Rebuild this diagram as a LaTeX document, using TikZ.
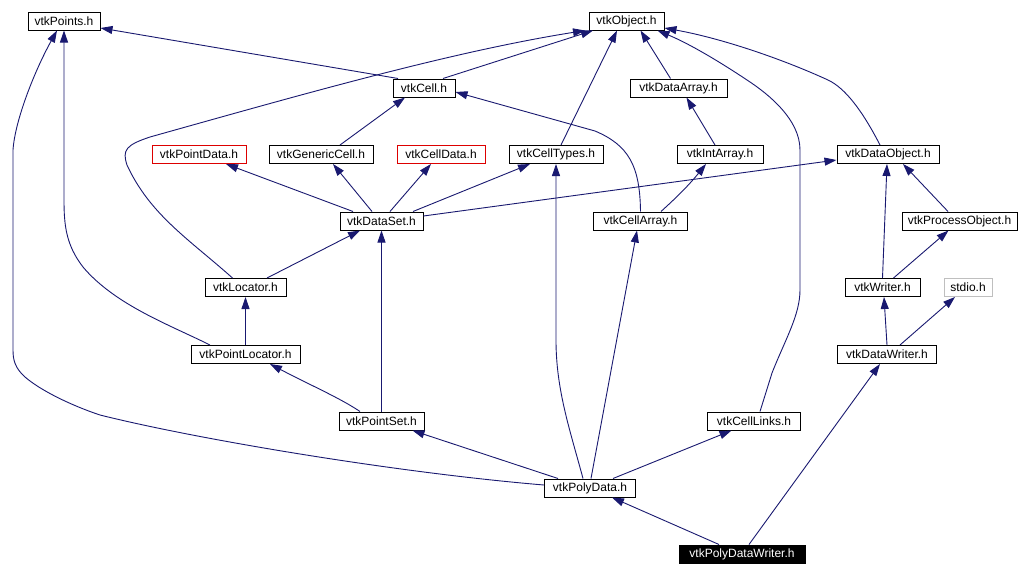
\documentclass[tikz,border=0pt]{standalone}
\usepackage{fontspec}
\setmainfont{Liberation Sans}
\usetikzlibrary{arrows.meta}
\definecolor{edgeblue}{HTML}{191970}
\definecolor{redborder}{HTML}{DD0000}
\definecolor{grayborder}{HTML}{BFBFBF}
\begin{document}
\begin{tikzpicture}[x=1pt,y=-1pt,
  box/.style={draw=black,line width=1pt,fill=white,minimum height=18pt,inner sep=0pt,
    font=\fontsize{12}{13}\selectfont},
  redbox/.style={box,draw=redborder},
  graybox/.style={box,draw=grayborder},
  blackbox/.style={box,fill=black,text=white},
  edge/.style={draw=edgeblue,line width=0.9pt,-{Triangle[length=12pt,width=8pt]}}]
\useasboundingbox[fill=white] (0,0) rectangle (1018,576);
% nodes
\node[box,minimum width=72pt] (points) at (64,21) {vtkPoints.h};
\node[box,minimum width=75pt] (object) at (626.5,21) {vtkObject.h};
\node[box,minimum width=62pt] (cell) at (424,88) {vtkCell.h};
\node[box,minimum width=97pt] (dataarray) at (678.5,88) {vtkDataArray.h};
\node[redbox,minimum width=94pt] (pointdata) at (199,154.5) {vtkPointData.h};
\node[box,minimum width=104pt] (genericcell) at (321,154.5) {vtkGenericCell.h};
\node[redbox,minimum width=88pt] (celldata) at (441,154.5) {vtkCellData.h};
\node[box,minimum width=94pt] (celltypes) at (556,154.5) {vtkCellTypes.h};
\node[box,minimum width=86pt] (intarray) at (720,154.5) {vtkIntArray.h};
\node[box,minimum width=102pt] (dataobject) at (888,154.5) {vtkDataObject.h};
\node[box,minimum width=83pt] (dataset) at (381.5,221) {vtkDataSet.h};
\node[box,minimum width=94pt] (cellarray) at (640.5,221) {vtkCellArray.h};
\node[box,minimum width=115pt] (processobject) at (959.5,221) {vtkProcessObject.h};
\node[box,minimum width=81pt] (locator) at (245.5,287.5) {vtkLocator.h};
\node[box,minimum width=75pt] (writer) at (882.5,287.5) {vtkWriter.h};
\node[graybox,minimum width=48pt] (stdio) at (968,287.5) {stdio.h};
\node[box,minimum width=109pt] (pointlocator) at (245.5,354.5) {vtkPointLocator.h};
\node[box,minimum width=99pt] (datawriter) at (887,354.5) {vtkDataWriter.h};
\node[box,minimum width=85pt] (pointset) at (381.5,421) {vtkPointSet.h};
\node[box,minimum width=93pt] (celllinks) at (754,421) {vtkCellLinks.h};
\node[box,minimum width=91pt] (polydata) at (590,488) {vtkPolyData.h};
\node[blackbox,minimum width=126pt] (polydatawriter) at (742,554) {vtkPolyDataWriter.h};
% edges
\draw[edge] ([xshift=-26pt]cell.north) -- ([yshift=-7pt]points.east);
\draw[edge] ([xshift=19pt]cell.north) -- ([xshift=-33.5pt]object.south);
\draw[edge] ([xshift=-13pt]locator.north) .. controls (190,240) and (150,215) .. (127,165)
  .. controls (122,150) and (126,145) .. (150,137)
  .. controls (300,95) and (450,52) .. ([xshift=-41.5pt]object.south);
\draw[edge] ([xshift=19pt]genericcell.north) -- ([xshift=-19pt]cell.south);
\draw[edge] ([xshift=-8pt]dataarray.north) -- ([xshift=14pt]object.south);
\draw[edge] ([xshift=5pt]celltypes.north) -- ([xshift=-9.5pt]object.south);
\draw[edge] ([xshift=6pt]celllinks.north) -- (772,373) .. controls (785,340) and (800,315) .. (800,290)
  -- (800,150) .. controls (800,120) and (770,95) .. (747,80)
  .. controls (720,62) and (690,44) .. ([xshift=31pt]object.south);
\draw[edge] ([xshift=-8pt]dataobject.north) .. controls (862,110) and (845,88) .. (828,80)
  .. controls (780,58) and (720,38) .. ([yshift=-7pt]object.east);
\draw[edge] ([xshift=-5pt]intarray.north) -- ([xshift=8pt]dataarray.south);
\draw[edge] ([xshift=-28.5pt]dataset.north) -- ([xshift=27pt]pointdata.south);
\draw[edge] ([xshift=-9.5pt]dataset.north) -- ([xshift=12pt]genericcell.south);
\draw[edge] ([xshift=8.5pt]dataset.north) -- ([xshift=-10pt]celldata.south);
\draw[edge] ([xshift=31.5pt]dataset.north) -- ([xshift=-26pt]celltypes.south);
\draw[edge] ([yshift=5pt]dataset.east) -- ([yshift=-5.5pt]dataobject.west);
\draw[edge] (cellarray.north) .. controls (640,165) and (628,145) .. (595,131)
  -- ([yshift=-4pt]cell.east);
\draw[edge] ([xshift=20.5pt]cellarray.north) .. controls (668,205) and (685,190) .. ([xshift=-14pt]intarray.south);
\draw[edge] ([xshift=-11.5pt]processobject.north) -- ([xshift=15pt]dataobject.south);
\draw[edge] (writer.north) -- ([xshift=-1pt]dataobject.south);
\draw[edge] ([xshift=11pt]writer.north) -- ([xshift=-11pt]processobject.south);
\draw[edge] (datawriter.north) -- ([xshift=1.5pt]writer.south);
\draw[edge] ([xshift=13pt]datawriter.north) -- ([xshift=-13pt]stdio.south);
\draw[edge] ([xshift=21.5pt]locator.north) -- ([xshift=-21.5pt]dataset.south);
\draw[edge] (pointlocator.north) -- (locator.south);
\draw[edge] ([xshift=-35.5pt]pointlocator.north) .. controls (170,325) and (115,305) .. (83,267)
  .. controls (66,245) and (64,225) .. (64,200) -- (points.south);
\draw[edge] ([yshift=3pt]polydata.west) .. controls (400,473) and (200,440) .. (100,415)
  .. controls (70,405) and (40,390) .. (25,377)
  .. controls (15,368) and (13,360) .. (13,350)
  -- (13,150) .. controls (15,120) and (35,70) .. ([xshift=-7pt]points.south);
\draw[edge] ([xshift=-32pt]polydata.north) -- ([xshift=31pt]pointset.south);
\draw[edge] ([xshift=-7pt]polydata.north) .. controls (570,430) and (556,390) .. (556,340)
  -- (celltypes.south);
\draw[edge] ([xshift=1pt]polydata.north) -- ([xshift=-3.5pt]cellarray.south);
\draw[edge] ([xshift=23pt]polydata.north) -- ([xshift=-22.5pt]celllinks.south);
\draw[edge] ([xshift=-23pt]polydatawriter.north) -- ([xshift=22pt]polydata.south);
\draw[edge] ([xshift=7pt]polydatawriter.north) -- ([xshift=-7pt]datawriter.south);
\draw[edge] (pointset.north) -- (dataset.south);
\draw[edge] ([xshift=-21.5pt]pointset.north) .. controls (340,398) and (310,385) .. ([xshift=24.5pt]pointlocator.south);
\end{tikzpicture}
\end{document}
